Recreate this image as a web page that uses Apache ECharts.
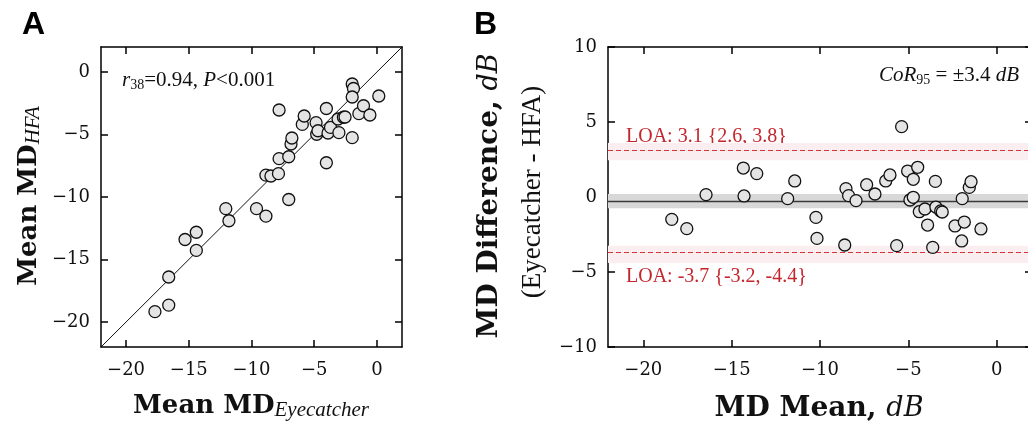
<!DOCTYPE html>
<html><head><meta charset="utf-8">
<script src="https://cdn.jsdelivr.net/npm/echarts@6/dist/echarts.min.js"></script>
<style>html,body{margin:0;padding:0;background:#fff}#c{width:1028px;height:423px}</style>
</head><body><div id="c"></div>
<script>
// ---- data ----
const ticksA = [-20, -15, -10, -5, 0];
const ticksBX = [-20, -15, -10, -5, 0];
const ticksBY = [-10, -5, 0, 5, 10];
const rangeA = [-22, 2];
const rangeBX = [-22, 2];
const rangeBY = [-10, 10];

// Panel A: Mean MD Eyecatcher (x) vs Mean MD HFA (y)
const aX = [-17.7, -16.6, -16.6, -15.3, -14.4, -14.4, -12.05, -11.8, -9.6, -8.85,
            -8.85, -8.45, -7.85, -7.8, -7.8, -7.03, -7.03, -6.85, -6.78, -5.95,
            -5.8, -4.85, -4.8, -4.7, -4.03, -3.9, -4.03, -3.7, -3.1, -3.03,
            -2.67, -2.54, -1.97, -1.87, -1.97, -1.97, -1.44, -1.07, -0.56, 0.15];
const aY = [-19.17, -18.65, -16.4, -13.4, -12.82, -14.27, -10.93, -11.9, -10.93, -11.53,
            -8.25, -8.32, -8.13, -3.04, -6.93, -6.78, -10.2, -5.76, -5.28, -4.19,
            -3.52, -4.05, -4.98, -4.7, -2.92, -4.88, -7.26, -4.43, -3.76, -4.85,
            -3.62, -3.6, -0.96, -1.32, -2.0, -5.25, -3.33, -2.7, -3.44, -1.92];
const identityLine = [-22, 2];

// Panel B: Bland-Altman
const bX = [-18.39, -17.54, -16.45, -14.34, -14.3, -13.58, -11.83, -11.43, -10.23, -10.17,
            -8.6, -8.53, -8.38, -7.96, -7.36, -6.89, -6.28, -6.04, -5.66, -5.38,
            -5.04, -4.91, -4.72, -4.72, -4.47, -4.38, -4.06, -3.91, -3.62, -3.47,
            -3.44, -3.17, -3.08, -2.36, -1.98, -1.95, -1.83, -1.55, -1.45, -0.89];
const bY = [-1.49, -2.11, 0.16, 1.93, 0.07, 1.56, -0.11, 1.07, -1.36, -2.76,
            -3.2, 0.56, 0.09, -0.24, 0.82, 0.2, 1.07, 1.47, -3.24, 4.69,
            1.73, -0.2, -0.02, 1.18, 1.98, -0.98, -0.8, -1.87, -3.36, 1.04,
            -0.67, -0.93, -1.0, -1.93, -2.93, -0.11, -1.67, 0.64, 1.02, -2.13];
const meanDiff = -0.3;
const meanBand = [-0.75, 0.2];
const loaUpper = 3.1;
const loaUpperBand = [2.45, 3.6];
const loaLower = -3.7;
const loaLowerBand = [-4.4, -3.25];

// ---- styling helpers ----
const fmt = v => (v < 0 ? '\u2212' + (-v) : String(v));
const lineSty = {color: '#000', width: 1.5};
function axis(grid, pos, range, ticks, showLabel, margin) {
  return {
    type: 'value', gridIndex: grid, position: pos, min: range[0], max: range[1],
    axisLine: {show: true, onZero: false, lineStyle: lineSty},
    axisTick: {show: true, inside: true, length: 7, lineStyle: lineSty, customValues: ticks},
    axisLabel: {show: showLabel, customValues: ticks, formatter: fmt, margin: margin,
                fontFamily: 'DejaVu Serif', fontSize: 18, color: '#111'},
    splitLine: {show: false}
  };
}
const ptStyle = {color: '#e4e4e4', borderColor: '#111', borderWidth: 1.3, opacity: 1};

const serifR = 'Liberation Serif';
const option = {
  animation: false,
  backgroundColor: '#fff',
  grid: [
    {left: 101, top: 47, width: 301, height: 300, containLabel: false, outerBoundsMode: 'none'},
    {left: 608, top: 47, width: 424, height: 300, containLabel: false, outerBoundsMode: 'none'}
  ],
  xAxis: [
    axis(0, 'bottom', rangeA, ticksA, true, 14),
    axis(0, 'top', rangeA, ticksA, false, 8),
    axis(1, 'bottom', rangeBX, ticksBX, true, 14),
    axis(1, 'top', rangeBX, ticksBX, false, 8)
  ],
  yAxis: [
    axis(0, 'left', rangeA, ticksA, true, 11),
    axis(0, 'right', rangeA, ticksA, false, 8),
    axis(1, 'left', rangeBY, ticksBY, true, 11),
    axis(1, 'right', rangeBY, ticksBY, false, 8)
  ],
  series: [
    {type: 'line', xAxisIndex: 0, yAxisIndex: 0, symbol: 'none', silent: true, z: 2,
     data: identityLine.map(v => [v, v]), lineStyle: {color: '#111', width: 1}},
    {type: 'scatter', xAxisIndex: 0, yAxisIndex: 0, symbolSize: 12, z: 5,
     data: aX.map((x, i) => [x, aY[i]]), itemStyle: ptStyle},
    {type: 'line', xAxisIndex: 2, yAxisIndex: 2, symbol: 'none', silent: true, z: 2,
     data: rangeBX.map(x => [x, meanDiff]), lineStyle: {color: '#3a3a3a', width: 1.5},
     markArea: {silent: true, z: 1, itemStyle: {}, data: [
       [{yAxis: meanBand[0], itemStyle: {color: '#d8d8d8'}}, {yAxis: meanBand[1]}],
       [{yAxis: loaUpperBand[0], itemStyle: {color: '#fbeef0'}}, {yAxis: loaUpperBand[1]}],
       [{yAxis: loaLowerBand[0], itemStyle: {color: '#fbeef0'}}, {yAxis: loaLowerBand[1]}]
     ]},
     markLine: {silent: true, symbol: 'none', label: {show: false}, z: 3,
       lineStyle: {color: '#d8323a', width: 1.2, type: [5, 3]},
       data: [{yAxis: loaUpper}, {yAxis: loaLower}]}
    },
    {type: 'scatter', xAxisIndex: 2, yAxisIndex: 2, symbolSize: 12, z: 5,
     data: bX.map((x, i) => [x, bY[i]]), itemStyle: ptStyle}
  ],
  graphic: [
    {type: 'text', x: 22, y: 25, style: {text: 'A', font: 'bold 32px "Liberation Sans"', fill: '#000', verticalAlign: 'middle'}},
    {type: 'text', x: 474, y: 25, style: {text: 'B', font: 'bold 32px "Liberation Sans"', fill: '#000', verticalAlign: 'middle'}},
    // annotations
    {type: 'text', x: 122, y: 80, style: {
      text: '{i|r}{s|38}{n|=0.94, }{i|P}{n|<0.001}', verticalAlign: 'middle',
      rich: {
        i: {fontFamily: serifR, fontStyle: 'italic', fontSize: 21, lineHeight: 24, fill: '#111'},
        n: {fontFamily: serifR, fontSize: 21, lineHeight: 24, fill: '#111'},
        s: {fontFamily: serifR, fontSize: 14, lineHeight: 14, verticalAlign: 'bottom', fill: '#111'}
      }}},
    {type: 'text', x: 1019, y: 75, style: {
      text: '{i|CoR}{s|95}{n| = \u00b13.4 }{i|dB}', align: 'right', verticalAlign: 'middle',
      rich: {
        i: {fontFamily: serifR, fontStyle: 'italic', fontSize: 21, lineHeight: 24, fill: '#111'},
        n: {fontFamily: serifR, fontSize: 21, lineHeight: 24, fill: '#111'},
        s: {fontFamily: serifR, fontSize: 14, lineHeight: 14, verticalAlign: 'bottom', fill: '#111'}
      }}},
    {type: 'text', x: 626, y: 137, style: {text: 'LOA: 3.1 {2.6, 3.8}', font: '20px "Liberation Serif"', fill: '#c4262e', verticalAlign: 'middle'}},
    {type: 'text', x: 626, y: 277, style: {text: 'LOA: -3.7 {-3.2, -4.4}', font: '20px "Liberation Serif"', fill: '#c4262e', verticalAlign: 'middle'}},
    // axis titles
    {type: 'text', x: 251, y: 406, style: {
      text: '{b|Mean MD}{s|Eyecatcher}', align: 'center', verticalAlign: 'middle',
      rich: {
        b: {fontFamily: 'DejaVu Serif', fontWeight: 'bold', fontSize: 26, lineHeight: 30, fill: '#111'},
        s: {fontFamily: serifR, fontStyle: 'italic', fontSize: 21, lineHeight: 20, verticalAlign: 'bottom', fill: '#111'}
      }}},
    {type: 'text', x: 29, y: 196, rotation: Math.PI / 2, style: {
      text: '{b|Mean MD}{s|HFA}', align: 'center', verticalAlign: 'middle',
      rich: {
        b: {fontFamily: 'DejaVu Serif', fontWeight: 'bold', fontSize: 26, lineHeight: 30, fill: '#111'},
        s: {fontFamily: serifR, fontStyle: 'italic', fontSize: 21, lineHeight: 18, verticalAlign: 'bottom', fill: '#111'}
      }}},
    {type: 'text', x: 819, y: 409, style: {
      text: '{b|MD Mean, }{i|dB}', align: 'center', verticalAlign: 'middle',
      rich: {
        b: {fontFamily: 'DejaVu Serif', fontWeight: 'bold', fontSize: 28, lineHeight: 32, fill: '#111'},
        i: {fontFamily: 'DejaVu Serif', fontStyle: 'italic', fontSize: 27, lineHeight: 32, fill: '#111'}
      }}},
    {type: 'text', x: 490, y: 196, rotation: Math.PI / 2, style: {
      text: '{b|MD Difference, }{i|dB}', align: 'center', verticalAlign: 'middle',
      rich: {
        b: {fontFamily: 'DejaVu Serif', fontWeight: 'bold', fontSize: 28, lineHeight: 32, fill: '#111'},
        i: {fontFamily: 'DejaVu Serif', fontStyle: 'italic', fontSize: 27, lineHeight: 32, fill: '#111'}
      }}},
    {type: 'text', x: 533, y: 192, rotation: Math.PI / 2, style: {
      text: '(Eyecatcher - HFA)', font: '27px "Liberation Serif"', fill: '#111', align: 'center', verticalAlign: 'middle'}}
  ]
};
const chart = echarts.init(document.getElementById('c'), null, {renderer: 'canvas'});
chart.setOption(option);
</script></body></html>
